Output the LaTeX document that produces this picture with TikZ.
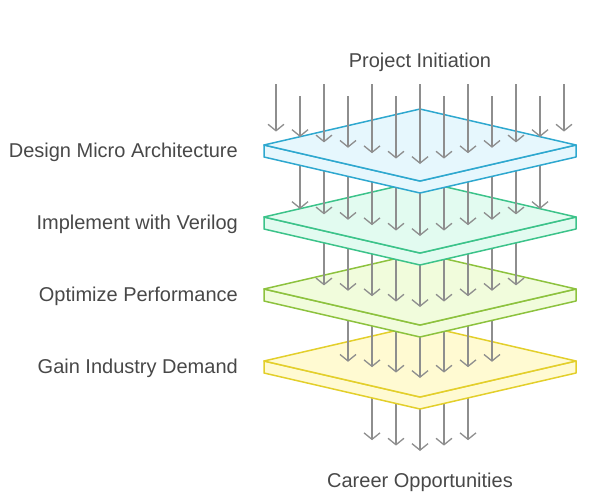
\documentclass[tikz,border=0pt]{standalone}
\usepackage{fontspec}
\setmainfont{Liberation Sans}
\usetikzlibrary{arrows.meta}

\definecolor{textgray}{HTML}{484848}
\definecolor{flowgray}{HTML}{8E8E8E}
\definecolor{blueline}{HTML}{2EA8CF}
\definecolor{bluefill}{HTML}{E6F7FD}
\definecolor{greenline}{HTML}{3CC38A}
\definecolor{greenfill}{HTML}{E2FBF0}
\definecolor{limeline}{HTML}{8DC23E}
\definecolor{limefill}{HTML}{F1FCDC}
\definecolor{yellowline}{HTML}{E3CF2B}
\definecolor{yellowfill}{HTML}{FFFAD2}

\tikzset{
  flow/.style={draw=flowgray, line width=1.3pt, -{Straight Barb[length=6.5pt,width=16pt]}},
  steptext/.style={text=textgray, font=\fontsize{20}{24}\selectfont, inner sep=0pt},
}

% one plate: centre y, line colour, fill colour
\newcommand{\plate}[3]{%
  \filldraw[draw=#2, fill=#3, line width=1.5pt, line join=round]
    (264,#1) -- (420,#1+36) -- (576,#1) -- (576,#1+12) -- (420,#1+48) -- (264,#1+12) -- cycle;
  \filldraw[draw=#2, fill=#3, line width=1.5pt, line join=round]
    (264,#1) -- (420,#1-36) -- (576,#1) -- (420,#1+36) -- cycle;
}

% a row of arrows: count, first x, start y, tip y at the middle
\newcommand{\arrowrow}[4]{%
  \foreach \i in {1,...,#1} {
    \pgfmathsetmacro{\xx}{#2+24*(\i-1)}
    \pgfmathsetmacro{\yy}{#4-0.225*abs(\xx-420)}
    \draw[flow] (\xx,#3) -- (\xx,\yy);
  }
}

\begin{document}
\begin{tikzpicture}[x=1pt,y=-1pt]
  \useasboundingbox (0,0) rectangle (590,501);

  % Ausgang unten
  \arrowrow{5}{372}{361}{451}

  % Ebene 4
  \plate{361}{yellowline}{yellowfill}
  \arrowrow{7}{348}{289}{378}

  % Ebene 3
  \plate{289}{limeline}{limefill}
  \arrowrow{9}{324}{217}{307}

  % Ebene 2
  \plate{217}{greenline}{greenfill}
  \arrowrow{11}{300}{145}{236}

  % Ebene 1
  \plate{145}{blueline}{bluefill}
  \foreach \i in {0,...,12} {
    \pgfmathsetmacro{\xx}{276+24*\i}
    \pgfmathsetmacro{\ys}{ifthenelse(mod(\i,2)==0,84,96)}
    \pgfmathsetmacro{\yy}{164-0.225*abs(\xx-420)}
    \draw[flow] (\xx,\ys) -- (\xx,\yy);
  }

  % Beschriftung
  \node[steptext] (start) at (420,62.5) {Project Initiation};
  \node[steptext, anchor=east] (design) at (238,152.5) {Design Micro Architecture};
  \node[steptext, anchor=east] (verilog) at (238,224.5) {Implement with Verilog};
  \node[steptext, anchor=east] (optimize) at (238,296.5) {Optimize Performance};
  \node[steptext, anchor=east] (demand) at (238,368.5) {Gain Industry Demand};
  \node[steptext] (career) at (420,482.5) {Career Opportunities};
\end{tikzpicture}
\end{document}
